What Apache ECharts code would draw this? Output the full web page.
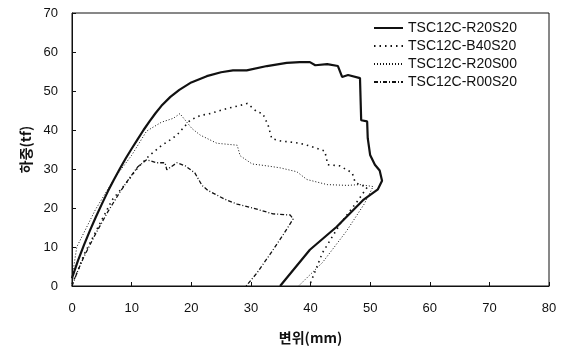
<!DOCTYPE html>
<html>
<head>
<meta charset="utf-8">
<script src="https://cdn.jsdelivr.net/npm/echarts@6/dist/echarts.min.js"></script>
<style>
  html, body { margin: 0; padding: 0; background: #fff; }
  #chart { width: 571px; height: 350px; }
</style>
</head>
<body>
<div id="chart"></div>
<script>
// 시험체 이름
const seriesNames = ["TSC12C-R20S20", "TSC12C-B40S20", "TSC12C-R20S00", "TSC12C-R00S20"]

// 변위(mm), 하중(tf) 쌍
const r20s20 = [
  [0, 2], [1, 6.5], [2, 10.5], [3, 14.2], [4, 17.7], [5, 21], [6, 24.2], [7, 27.2], [8, 30],
  [9, 32.7], [10, 35.2], [11, 37.6], [12, 40], [13, 42.2], [14, 44.3], [15, 46.2], [16.5, 48.5],
  [18, 50.3], [20, 52.2], [22.6, 53.8], [25, 54.8], [27, 55.3], [29.3, 55.3], [32.7, 56.4],
  [36, 57.2], [38.2, 57.4], [39.9, 57.4], [40.8, 56.6], [42.8, 56.9], [44.6, 56.4], [45.3, 53.6],
  [46.3, 54.1], [48.3, 53.3], [48.5, 42.5], [49.5, 42.2], [49.6, 37.9], [50, 33.6], [50.8, 31.1],
  [51.6, 29.6], [52, 27], [51.3, 24.8], [48.8, 22], [44.4, 15.2], [39.9, 9.3], [34.9, 0]
]
const b40s20 = [
  [0, 0.5], [1, 4], [2, 8], [4, 14], [6.7, 22], [9.4, 27], [11, 30.3], [13, 33.5], [15, 36],
  [16.5, 37.5], [17.6, 38.7], [19.8, 42.5], [21.5, 43.7], [23.1, 44.2], [26, 45.5],
  [28.2, 46.3], [29.4, 46.8], [31, 44.7], [32, 44.2], [32.9, 41.2], [33.5, 37.8], [35, 37.2],
  [38.2, 36.6], [39.9, 35.9], [42.4, 34.6], [42.9, 31.1], [44.9, 30.8], [47, 29], [47.5, 26.5],
  [49.5, 25.3], [48, 22], [45, 16], [42, 8.5], [39.8, 0]
]
const r20s00 = [
  [0, 2], [0.8, 10], [3.9, 19.5], [7.2, 27.8], [10, 33.5], [12.5, 39.7], [15, 42], [17, 43],
  [18.1, 44.2], [20.1, 40.4], [21.5, 38.7], [24.3, 36.6], [27.7, 36.1], [28.2, 33.4],
  [30.2, 31.3], [32.7, 30.8], [34.9, 30.3], [37.7, 29.3], [39.4, 27.3], [42.8, 26],
  [46.1, 25.8], [48.3, 26], [50.5, 25.5], [49, 21], [46, 14], [42, 6], [38, 0]
]
const r00s20 = [
  [0, 0], [1, 4], [2, 7.5], [4, 13.5], [6, 19], [8, 24], [9.7, 27.8], [11, 30.5], [12.5, 32.4],
  [14.2, 31.6], [15.6, 31.6], [15.9, 29.8], [17.6, 31.6], [19, 30.8], [20.6, 29], [21.8, 25.8],
  [22.8, 24.5], [25.7, 22.2], [27.7, 21], [31, 19.7], [33.7, 18.5], [36.6, 18.2], [37.1, 17.2],
  [35.4, 13.1], [33.2, 8.1], [31, 3.3], [29.2, 0]
]

const chart = echarts.init(document.getElementById("chart"))

const labelFont = { color: "#111", fontSize: 13, fontFamily: "Liberation Sans" }
const nameFont = { color: "#111", fontSize: 14, fontWeight: "bold", fontFamily: "Noto Sans CJK KR" }

const lineSeries = (name, data, lineStyle) => ({
  name,
  type: "line",
  data,
  symbol: "none",
  smooth: false,
  lineStyle: Object.assign({ color: "#111" }, lineStyle),
  itemStyle: { color: "#111" },
})

chart.setOption({
  backgroundColor: "#fff",
  animation: false,
  grid: {
    left: 72,
    right: 22,
    top: 13,
    bottom: 60,
    show: true,
    borderColor: "#111",
    borderWidth: 1,
  },
  legend: {
    orient: "vertical",
    left: 373,
    top: 21,
    padding: 0,
    itemWidth: 29,
    itemHeight: 14,
    itemGap: 4,
    itemStyle: { opacity: 0, borderWidth: 0 },
    textStyle: { color: "#111", fontSize: 14, fontFamily: "Liberation Sans" },
    data: seriesNames,
  },
  xAxis: {
    type: "value",
    min: 0,
    max: 80,
    interval: 10,
    name: "변위(mm)",
    nameLocation: "middle",
    nameGap: 45,
    nameTextStyle: nameFont,
    axisLine: { lineStyle: { color: "#111" } },
    axisTick: { inside: true, length: 4, lineStyle: { color: "#111" } },
    axisLabel: Object.assign({ margin: 16 }, labelFont),
    splitLine: { show: false },
  },
  yAxis: {
    type: "value",
    min: 0,
    max: 70,
    interval: 10,
    name: "하중(tf)",
    nameLocation: "middle",
    nameGap: 31,
    nameTextStyle: nameFont,
    axisLine: { show: true, lineStyle: { color: "#111" } },
    axisTick: { show: true, inside: true, length: 4, lineStyle: { color: "#111" } },
    axisLabel: Object.assign({ margin: 14 }, labelFont),
    splitLine: { show: false },
  },
  series: [
    lineSeries(seriesNames[0], r20s20, { width: 2.2, type: "solid" }),
    lineSeries(seriesNames[1], b40s20, { width: 1.6, type: [1.5, 4] }),
    lineSeries(seriesNames[2], r20s00, { width: 1, type: [1, 2] }),
    lineSeries(seriesNames[3], r00s20, { width: 1.3, type: [4, 2, 1, 2] }),
  ],
})
</script>
</body>
</html>
